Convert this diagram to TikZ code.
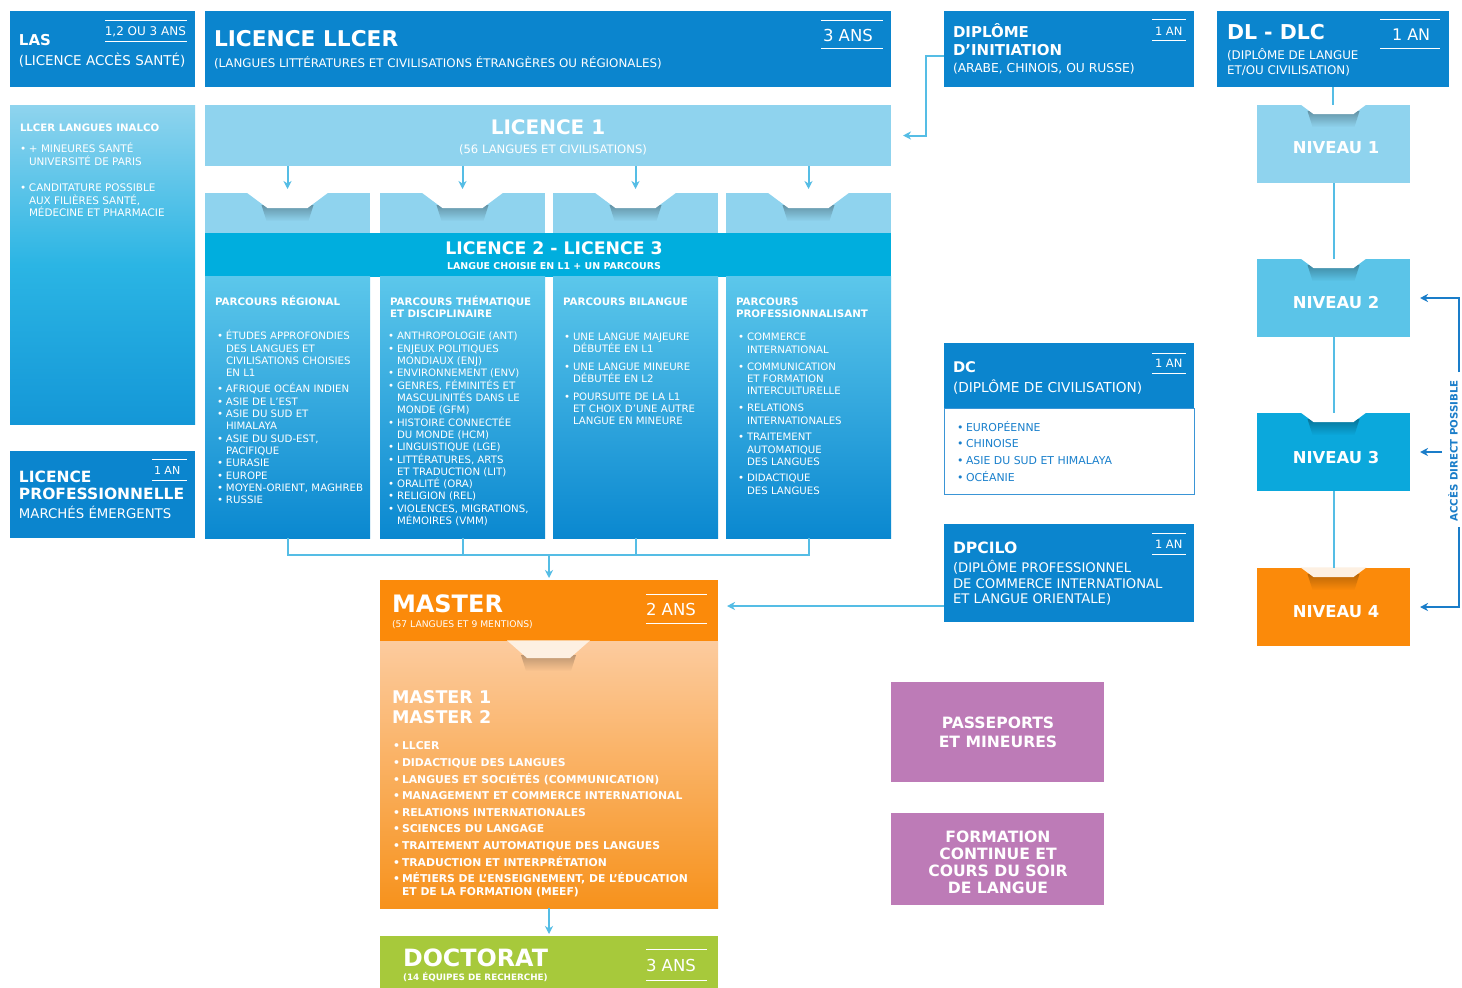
\documentclass[tikz,border=0pt]{standalone}
\usepackage{fontspec}
\setmainfont{DejaVu Sans}
\usetikzlibrary{arrows.meta,fadings}
\definecolor{blueD}{HTML}{0B85CE}
\definecolor{lightB}{HTML}{8FD3EE}
\definecolor{bandC}{HTML}{00AEDE}
\definecolor{colT}{HTML}{5CC7EB}
\definecolor{colB}{HTML}{0A88D0}
\definecolor{inaT}{HTML}{8FD4EE}
\definecolor{inaM}{HTML}{2BB5E4}
\definecolor{inaB}{HTML}{1497D7}
\definecolor{nivB}{HTML}{5BC4E8}
\definecolor{nivC}{HTML}{0BA8DC}
\definecolor{orangeA}{HTML}{FB8A0A}
\definecolor{mT}{HTML}{FCCB9E}
\definecolor{mB}{HTML}{F7921C}
\definecolor{greenA}{HTML}{A7C93B}
\definecolor{purpA}{HTML}{BD7BB7}
\definecolor{connL}{HTML}{55BDE5}
\definecolor{accB}{HTML}{1A7DC9}
\definecolor{dcText}{HTML}{1A80CC}
\definecolor{dcBorder}{HTML}{3A95D6}
\definecolor{creamA}{HTML}{FDF0E2}
\tikzfading[name=shfade, top color=transparent!0, bottom color=transparent!100]
\newcommand\FS[2]{\fontsize{#1}{#2}\selectfont}
\newcommand\TLines[1]{\vtop{\halign{##\hfil\cr#1\crcr}}}
\newcommand\TCent[1]{\vtop{\halign{\hfil##\hfil\cr#1\crcr}}}
\newcommand\BulX{\makebox[9pt][l]{•}}
\newcommand\IndX{\hspace*{9pt}}
\newcommand\NotchX[7]{%
  \fill[black, opacity=#7, path fading=shfade] (#1-#4-6,#2+#5-3) -- (#1+#4+6,#2+#5-3) -- (#1+#4+1,#2+#5+13) -- (#1-#4-1,#2+#5+13) -- cycle;
  \fill[#6] (#1-#3,#2-0.6) -- (#1-#4,#2+#5) -- (#1+#4,#2+#5) -- (#1+#3,#2-0.6) -- cycle;}
\tikzset{
  rbox/.style={rectangle, inner sep=0pt, outer sep=0pt, anchor=north west, draw=none},
  tx/.style={inner sep=0pt, outer sep=0pt, text=white, anchor=base west},
  conn/.style={draw=connL, line width=2pt},
  arr/.style={conn, -{Stealth[length=8pt,width=8pt,inset=2.5pt]}},
  arrD/.style={draw=accB, line width=1.8pt, -{Stealth[length=8pt,width=8pt,inset=2.5pt]}},
  annl/.style={draw=white, line width=1pt},
}
\begin{document}
\begin{tikzpicture}[x=1pt,y=-1pt]
\useasboundingbox (0,0) rectangle (1462,988);
\fill[white] (0,0) rectangle (1462,988);
% ---------- boxes
\node[rbox, fill=blueD, minimum width=185pt, minimum height=76pt] (las) at (10,11) {};
\node[rbox, fill=blueD, minimum width=686pt, minimum height=76pt] (llcer) at (205,11) {};
\node[rbox, fill=blueD, minimum width=250pt, minimum height=76pt] (dinit) at (944,11) {};
\node[rbox, fill=blueD, minimum width=232pt, minimum height=76pt] (dldlc) at (1217,11) {};
\node[rbox, top color=inaT, bottom color=inaB, middle color=inaM, minimum width=185pt, minimum height=319pt] (inalco) at (10,105) {};
\node[rbox, fill=blueD, minimum width=185pt, minimum height=87pt] (lpro) at (10,451) {};
\node[rbox, fill=lightB, minimum width=686pt, minimum height=61pt] (l1) at (205,105) {};
\node[rbox, fill=lightB, minimum width=165pt, minimum height=41pt] (t1) at (205,193) {};
\node[rbox, fill=lightB, minimum width=165pt, minimum height=41pt] (t2) at (380,193) {};
\node[rbox, fill=lightB, minimum width=165pt, minimum height=41pt] (t3) at (553,193) {};
\node[rbox, fill=lightB, minimum width=165pt, minimum height=41pt] (t4) at (726,193) {};
\node[rbox, fill=bandC, minimum width=686pt, minimum height=44pt] (band) at (205,233) {};
\node[rbox, top color=colT, bottom color=colB, minimum width=165pt, minimum height=262pt] (c1) at (205,276) {};
\node[rbox, top color=colT, bottom color=colB, minimum width=165pt, minimum height=262pt] (c2) at (380,276) {};
\node[rbox, top color=colT, bottom color=colB, minimum width=165pt, minimum height=262pt] (c3) at (553,276) {};
\node[rbox, top color=colT, bottom color=colB, minimum width=165pt, minimum height=262pt] (c4) at (726,276) {};
\node[rbox, fill=orangeA, minimum width=338pt, minimum height=61pt] (mhead) at (380,580) {};
\node[rbox, top color=mT, bottom color=mB, minimum width=338pt, minimum height=267pt] (mbody) at (380,641) {};
\node[rbox, fill=greenA, minimum width=338pt, minimum height=52pt] (doct) at (380,936) {};
\node[rbox, fill=blueD, minimum width=250pt, minimum height=65pt] (dchead) at (944,343) {};
\node[rbox, fill=white, draw=dcBorder, line width=1pt, minimum width=250pt, minimum height=86pt] (dcbody) at (944,408) {};
\node[rbox, fill=blueD, minimum width=250pt, minimum height=98pt] (dpcilo) at (944,524) {};
\node[rbox, fill=lightB, minimum width=153pt, minimum height=78pt] (n1) at (1257,105) {};
\node[rbox, fill=nivB, minimum width=153pt, minimum height=78pt] (n2) at (1257,259) {};
\node[rbox, fill=nivC, minimum width=153pt, minimum height=78pt] (n3) at (1257,413) {};
\node[rbox, fill=orangeA, minimum width=153pt, minimum height=78pt] (n4) at (1257,568) {};
\node[rbox, fill=purpA, minimum width=213pt, minimum height=100pt] (pass) at (891,682) {};
\node[rbox, fill=purpA, minimum width=213pt, minimum height=92pt] (form) at (891,813) {};
% ---------- notches
\NotchX{287.5}{193}{41}{20}{15}{white}{0.3}
\NotchX{462.5}{193}{41}{20}{15}{white}{0.3}
\NotchX{635.5}{193}{41}{20}{15}{white}{0.3}
\NotchX{808.5}{193}{41}{20}{15}{white}{0.3}
\NotchX{1333.5}{105}{33}{20}{9}{white}{0.3}
\NotchX{1333.5}{259}{33}{20}{9}{white}{0.3}
\NotchX{1333.5}{413}{33}{20}{9}{white}{0.3}
\NotchX{1333.5}{568}{33}{20}{9}{creamA}{0.25}
\NotchX{548.5}{641}{41.5}{21.5}{17}{creamA}{0.25}
% ---------- duration rules
\draw[annl] (105,20) -- (187,20); \draw[annl] (105,41) -- (187,41);
\draw[annl] (821,20) -- (883,20); \draw[annl] (821,48) -- (883,48);
\draw[annl] (1152,19.5) -- (1186,19.5); \draw[annl] (1152,40) -- (1186,40);
\draw[annl] (1380,19) -- (1440,19); \draw[annl] (1380,48) -- (1440,48);
\draw[annl] (152,459) -- (187,459); \draw[annl] (152,480) -- (187,480);
\draw[annl] (1152,353) -- (1186,353); \draw[annl] (1152,373) -- (1186,373);
\draw[annl] (1152,533) -- (1186,533); \draw[annl] (1152,554) -- (1186,554);
\draw[annl] (646,594) -- (707,594); \draw[annl] (646,623) -- (707,623);
\draw[annl] (646,949) -- (707,949); \draw[annl] (646,980) -- (707,980);
% ---------- texts: top row
\node[tx, font=\bfseries\FS{15}{18}] (lasT) at (19,45.5) {LAS};
\node[tx, font=\FS{13.5}{16}] (lasS) at (19,65.4) {(LICENCE ACCÈS SANTÉ)};
\node[tx, anchor=base east, font=\FS{12}{14}] (lasD) at (186,35.4) {1,2 OU 3 ANS};
\node[tx, font=\bfseries\FS{21.7}{24}] (llT) at (214,46.8) {LICENCE LLCER};
\node[tx, font=\FS{11.85}{14}] (llS) at (214,67.3) {(LANGUES LITTÉRATURES ET CIVILISATIONS ÉTRANGÈRES OU RÉGIONALES)};
\node[tx, font=\FS{16.5}{18}] (llD) at (823,41) {3 ANS};
\node[tx, font=\bfseries\FS{15}{17.5}] (diT) at (953,37.5) {\TLines{DIPLÔME\cr D’INITIATION}};
\node[tx, font=\FS{12.3}{14}] (diS) at (953,72.5) {(ARABE, CHINOIS, OU RUSSE)};
\node[tx, font=\FS{11.5}{13}] (diD) at (1155,35.2) {1 AN};
\node[tx, font=\bfseries\FS{20.5}{23}] (dlT) at (1227,39.5) {DL - DLC};
\node[tx, font=\FS{11.9}{15.5}] (dlS) at (1227,59.3) {\TLines{(DIPLÔME DE LANGUE\cr ET/OU CIVILISATION)}};
\node[tx, font=\FS{16}{18}] (dlD) at (1392,40.8) {1 AN};
% ---------- left column
\node[tx, font=\bfseries\FS{10.2}{12}] (inT) at (20,131.5) {LLCER LANGUES INALCO};
\node[tx, font=\FS{10.4}{12.6}] (inA) at (20,152.7) {\TLines{\BulX + MINEURES SANTÉ\cr\IndX UNIVERSITÉ DE PARIS}};
\node[tx, font=\FS{10.4}{12.6}] (inB) at (20,191.7) {\TLines{\BulX CANDITATURE POSSIBLE\cr\IndX AUX FILIÈRES SANTÉ,\cr\IndX MÉDECINE ET PHARMACIE}};
\node[tx, font=\bfseries\FS{15.5}{17}] (lpT) at (19,482.6) {\TLines{LICENCE\cr PROFESSIONNELLE}};
\node[tx, font=\FS{13.3}{15}] (lpS) at (19,518.9) {MARCHÉS ÉMERGENTS};
\node[tx, font=\FS{11}{13}] (lpD) at (154,474) {1 AN};
% ---------- licence
\node[tx, anchor=base, font=\bfseries\FS{20}{22}] (l1T) at (548,134.3) {LICENCE 1};
\node[tx, anchor=base, font=\FS{11.6}{14}] (l1S) at (553,153.2) {(56 LANGUES ET CIVILISATIONS)};
\node[tx, anchor=base, font=\bfseries\FS{17.3}{20}] (bdT) at (554,254.3) {LICENCE 2 - LICENCE 3};
\node[tx, anchor=base, font=\bfseries\FS{9.45}{11}] (bdS) at (554,269.4) {LANGUE CHOISIE EN L1 + UN PARCOURS};
% column 1
\node[tx, font=\bfseries\FS{10.3}{12}] (h1) at (215,305.7) {PARCOURS RÉGIONAL};
\node[tx, font=\FS{10.2}{12.33}] (b1a) at (217,339.7) {\TLines{\BulX ÉTUDES APPROFONDIES\cr\IndX DES LANGUES ET\cr\IndX CIVILISATIONS CHOISIES\cr\IndX EN L1}};
\node[tx, font=\FS{10.2}{12.33}] (b1b) at (217,392.7) {\TLines{\BulX AFRIQUE OCÉAN INDIEN\cr\BulX ASIE DE L’EST\cr\BulX ASIE DU SUD ET\cr\IndX HIMALAYA\cr\BulX ASIE DU SUD-EST,\cr\IndX PACIFIQUE\cr\BulX EURASIE\cr\BulX EUROPE\cr\BulX MOYEN-ORIENT, MAGHREB\cr\BulX RUSSIE}};
% column 2
\node[tx, font=\bfseries\FS{10.3}{12}] (h2) at (390,305.7) {\TLines{PARCOURS THÉMATIQUE\cr ET DISCIPLINAIRE}};
\node[tx, font=\FS{10.2}{12.33}] (b2) at (388,339.7) {\TLines{\BulX ANTHROPOLOGIE (ANT)\cr\BulX ENJEUX POLITIQUES\cr\IndX MONDIAUX (ENJ)\cr\BulX ENVIRONNEMENT (ENV)\cr\BulX GENRES, FÉMINITÉS ET\cr\IndX MASCULINITÉS DANS LE\cr\IndX MONDE (GFM)\cr\BulX HISTOIRE CONNECTÉE\cr\IndX DU MONDE (HCM)\cr\BulX LINGUISTIQUE (LGE)\cr\BulX LITTÉRATURES, ARTS\cr\IndX ET TRADUCTION (LIT)\cr\BulX ORALITÉ (ORA)\cr\BulX RELIGION (REL)\cr\BulX VIOLENCES, MIGRATIONS,\cr\IndX MÉMOIRES (VMM)}};
% column 3
\node[tx, font=\bfseries\FS{10.3}{12}] (h3) at (563,305.7) {PARCOURS BILANGUE};
\node[tx, font=\FS{10.2}{12}] (b3a) at (564,340.2) {\TLines{\BulX UNE LANGUE MAJEURE\cr\IndX DÉBUTÉE EN L1}};
\node[tx, font=\FS{10.2}{12}] (b3b) at (564,370.2) {\TLines{\BulX UNE LANGUE MINEURE\cr\IndX DÉBUTÉE EN L2}};
\node[tx, font=\FS{10.2}{12}] (b3c) at (564,400.2) {\TLines{\BulX POURSUITE DE LA L1\cr\IndX ET CHOIX D’UNE AUTRE\cr\IndX LANGUE EN MINEURE}};
% column 4
\node[tx, font=\bfseries\FS{10.3}{12}] (h4) at (736,305.7) {\TLines{PARCOURS\cr PROFESSIONNALISANT}};
\node[tx, font=\FS{10.2}{12.3}] (b4a) at (738,340.7) {\TLines{\BulX COMMERCE\cr\IndX INTERNATIONAL}};
\node[tx, font=\FS{10.2}{12.3}] (b4b) at (738,370.2) {\TLines{\BulX COMMUNICATION\cr\IndX ET FORMATION\cr\IndX INTERCULTURELLE}};
\node[tx, font=\FS{10.2}{12.3}] (b4c) at (738,411.7) {\TLines{\BulX RELATIONS\cr\IndX INTERNATIONALES}};
\node[tx, font=\FS{10.2}{12.3}] (b4d) at (738,440.7) {\TLines{\BulX TRAITEMENT\cr\IndX AUTOMATIQUE\cr\IndX DES LANGUES}};
\node[tx, font=\FS{10.2}{12.3}] (b4e) at (738,481.7) {\TLines{\BulX DIDACTIQUE\cr\IndX DES LANGUES}};
% ---------- DC, DPCILO
\node[tx, font=\bfseries\FS{14.7}{17}] (dcT) at (953,372.4) {DC};
\node[tx, font=\FS{13.7}{16}] (dcS) at (953,392) {(DIPLÔME DE CIVILISATION)};
\node[tx, font=\FS{11.5}{13}] (dcD) at (1155,367.2) {1 AN};
\node[tx, text=dcText, font=\FS{10.9}{16.67}] (dcL) at (957,431) {\TLines{\BulX EUROPÉENNE\cr\BulX CHINOISE\cr\BulX ASIE DU SUD ET HIMALAYA\cr\BulX OCÉANIE}};
\node[tx, font=\bfseries\FS{15.6}{18}] (dpT) at (953,553.7) {DPCILO};
\node[tx, font=\FS{13.2}{15.5}] (dpS) at (953,572.8) {\TLines{(DIPLÔME PROFESSIONNEL\cr DE COMMERCE INTERNATIONAL\cr ET LANGUE ORIENTALE)}};
\node[tx, font=\FS{11.5}{13}] (dpD) at (1155,548.2) {1 AN};
% ---------- master, doctorat
\node[tx, font=\bfseries\FS{24}{26}] (maT) at (392,612.7) {MASTER};
\node[tx, font=\FS{9.2}{10}] (maS) at (392,627.4) {(57 LANGUES ET 9 MENTIONS)};
\node[tx, font=\FS{16.5}{18}] (maD) at (646,615) {2 ANS};
\node[tx, font=\bfseries\FS{17.5}{20}] (m12) at (392,703.4) {\TLines{MASTER 1\cr MASTER 2}};
\node[tx, font=\bfseries\FS{10.8}{16.6}] (mL) at (393,749.9) {\TLines{\BulX LLCER\cr\BulX DIDACTIQUE DES LANGUES\cr\BulX LANGUES ET SOCIÉTÉS (COMMUNICATION)\cr\BulX MANAGEMENT ET COMMERCE INTERNATIONAL\cr\BulX RELATIONS INTERNATIONALES\cr\BulX SCIENCES DU LANGAGE\cr\BulX TRAITEMENT AUTOMATIQUE DES LANGUES\cr\BulX TRADUCTION ET INTERPRÉTATION\cr\BulX MÉTIERS DE L’ENSEIGNEMENT, DE L’ÉDUCATION}};
\node[tx, font=\bfseries\FS{10.8}{13}] (mL2) at (402,895.9) {ET DE LA FORMATION (MEEF)};
\node[tx, font=\bfseries\FS{23.8}{26}] (doT) at (403,966.7) {DOCTORAT};
\node[tx, font=\bfseries\FS{8.8}{10}] (doS) at (403,980.2) {(14 ÉQUIPES DE RECHERCHE)};
\node[tx, font=\FS{16.5}{18}] (doD) at (646,971) {3 ANS};
% ---------- niveaux
\node[tx, anchor=base, font=\bfseries\FS{16.4}{18}] (n1T) at (1336,153.9) {NIVEAU 1};
\node[tx, anchor=base, font=\bfseries\FS{16.4}{18}] (n2T) at (1336,308.9) {NIVEAU 2};
\node[tx, anchor=base, font=\bfseries\FS{16.4}{18}] (n3T) at (1336,463.9) {NIVEAU 3};
\node[tx, anchor=base, font=\bfseries\FS{16.4}{18}] (n4T) at (1336,617.9) {NIVEAU 4};
% ---------- purple
\node[tx, anchor=base, font=\bfseries\FS{15.6}{19.3}] (paT) at (998,728.6) {\TCent{PASSEPORTS\cr ET MINEURES}};
\node[tx, anchor=base, font=\bfseries\FS{15.6}{16.8}] (foT) at (998,842.6) {\TCent{FORMATION\cr CONTINUE ET\cr COURS DU SOIR\cr DE LANGUE}};
% ---------- acces direct
\node[inner sep=0pt, rotate=90, text=accB, font=\bfseries\FS{10.2}{12}] (acct) at (1453,451) {ACCÈS DIRECT POSSIBLE};
\coordinate (accTop) at (1459,372);
\coordinate (accBot) at (1459,527);
% ---------- connectors
\coordinate (bus) at (548,555);
\draw[arr, shorten >=12pt] ([yshift=-7pt]dinit.west) -- ++(-18,0) |- (l1.east);
\draw[arr, shorten >=4pt] (l1.south -| t1.north) -- (t1.north);
\draw[arr, shorten >=4pt] (l1.south -| t2.north) -- (t2.north);
\draw[arr, shorten >=4pt] (l1.south -| t3.north) -- (t3.north);
\draw[arr, shorten >=4pt] (l1.south -| t4.north) -- (t4.north);
\draw[conn] (c1.south) -- (c1.south |- bus) -- (c4.south |- bus) -- (c4.south);
\draw[conn] (c2.south) -- (c2.south |- bus);
\draw[conn] (c3.south) -- (c3.south |- bus);
\draw[arr, shorten >=2pt] (bus -| mhead.north) -- (mhead.north);
\draw[arr, shorten >=2pt] (mbody.south) -- (doct.north);
\coordinate (dpA) at ([yshift=-33pt]dpcilo.west);
\draw[arr, shorten >=9pt] (dpA) -- (mhead.east |- dpA);
\draw[conn] (dldlc.south) -- (dldlc.south |- n1.north);
\draw[conn] (n1.south) -- (n2.north);
\draw[conn] (n2.south) -- (n3.north);
\draw[conn] (n3.south) -- (n4.north);
\draw[arrD, shorten >=10pt] (accTop) |- (n2.east);
\draw[arrD, shorten >=10pt] (accBot) |- (n4.east);
\draw[arrD, shorten >=10pt] ([xshift=32pt]n3.east) -- (n3.east);
\end{tikzpicture}
\end{document}
